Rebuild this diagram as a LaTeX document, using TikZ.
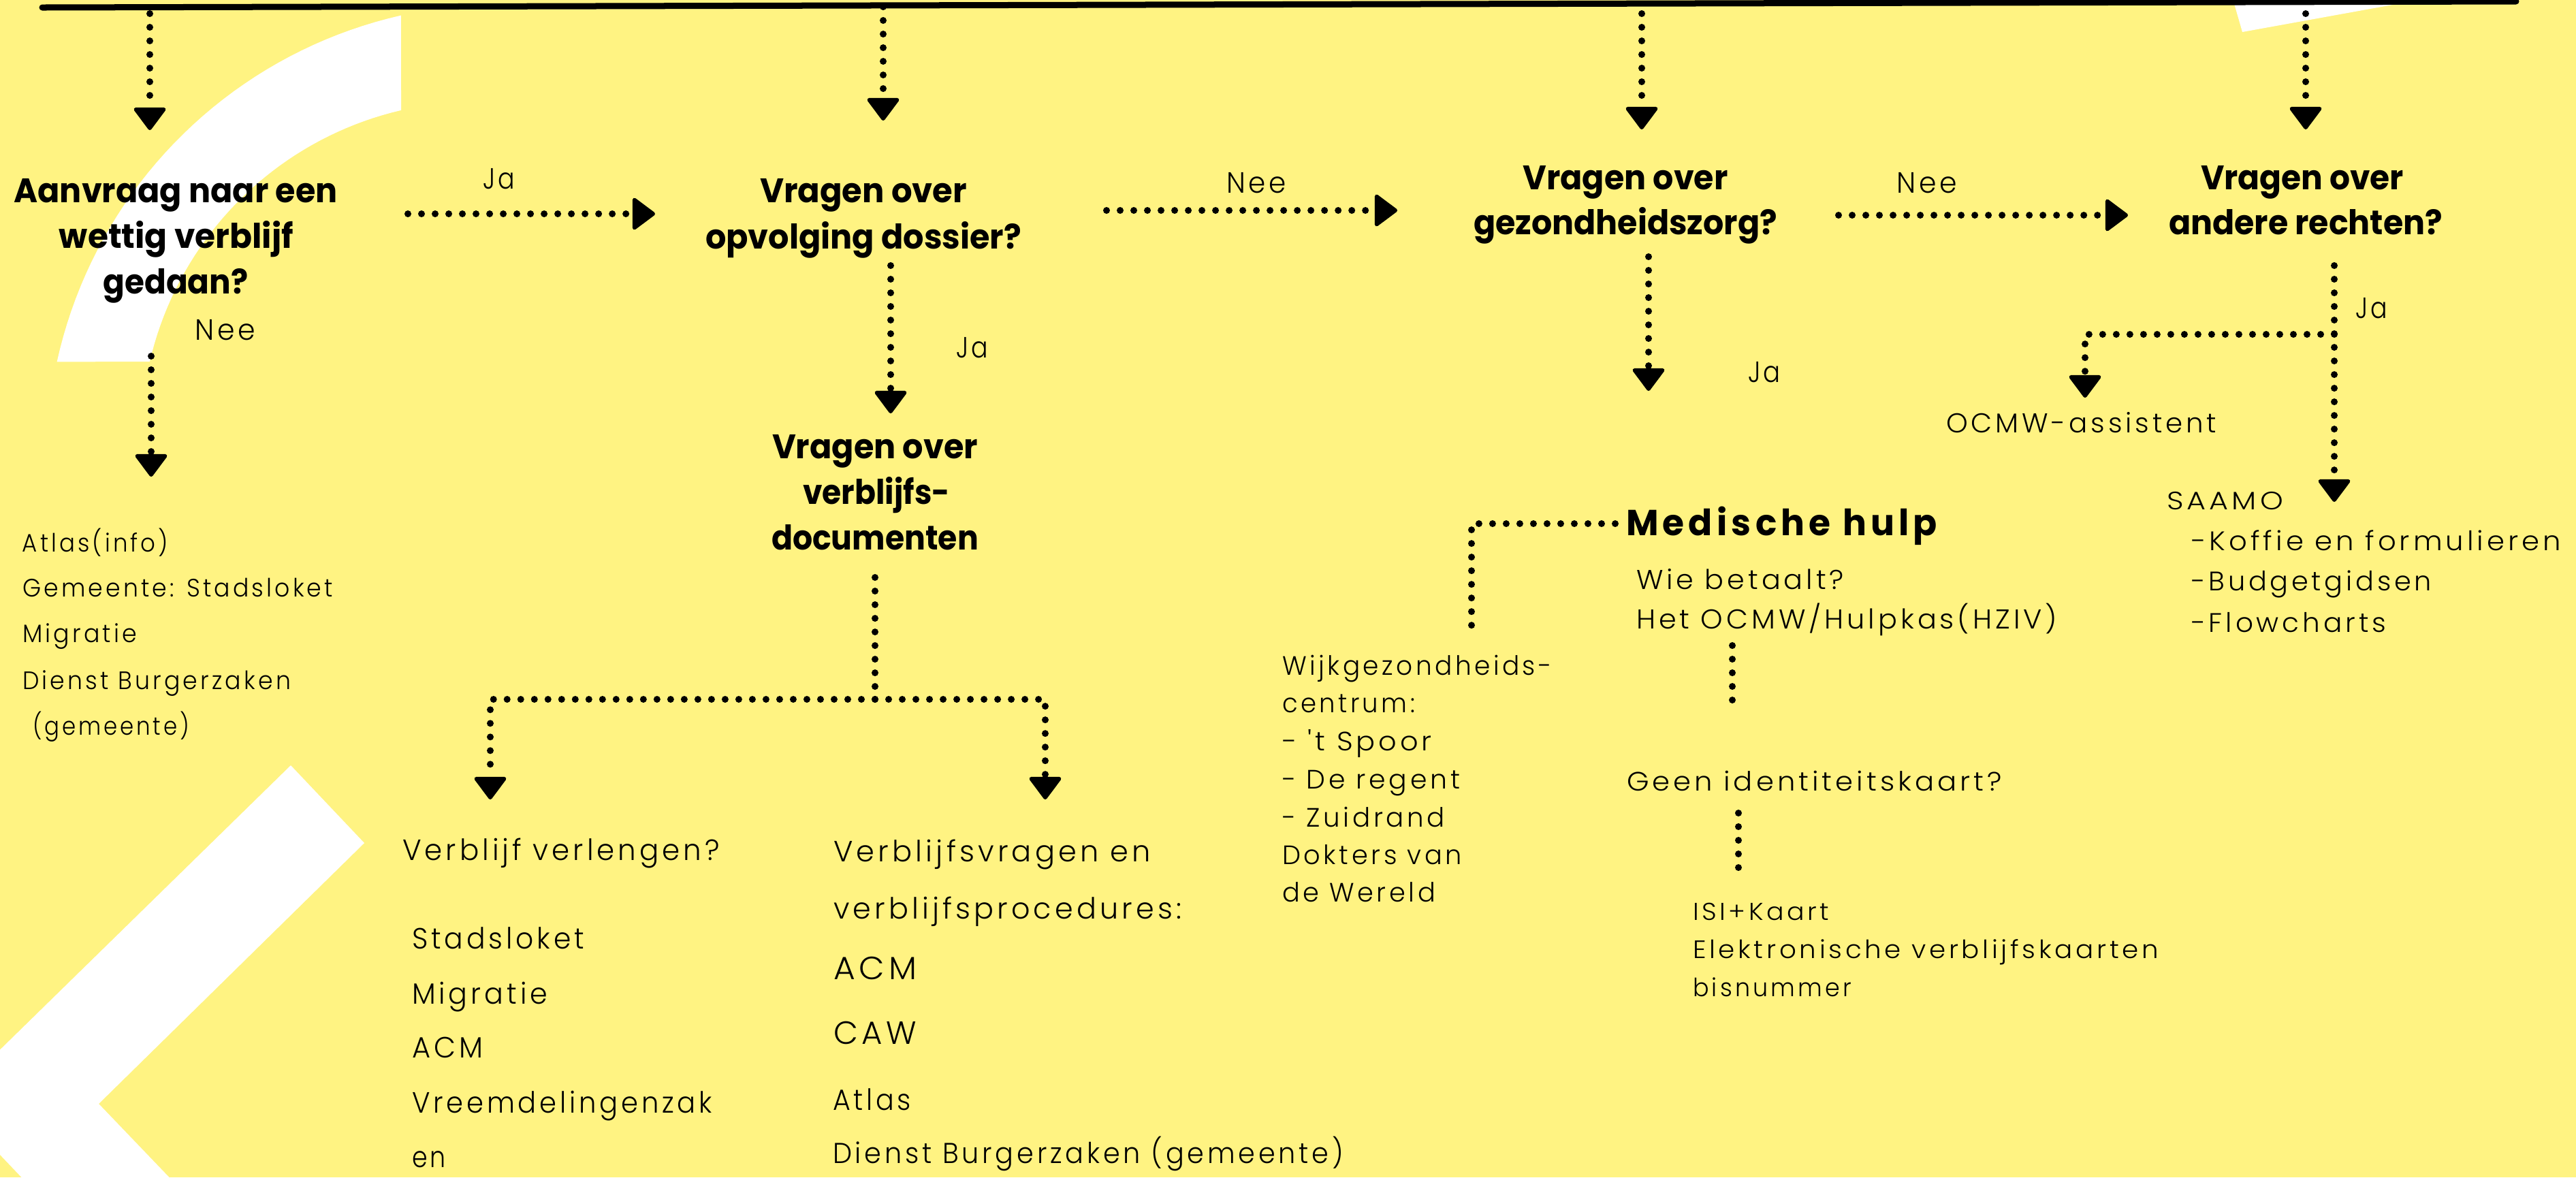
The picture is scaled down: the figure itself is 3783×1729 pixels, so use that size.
\documentclass[tikz,border=0pt]{standalone}
\usepackage{fontspec}
\usepackage{graphicx}
\usetikzlibrary{arrows.meta}
\definecolor{bgy}{HTML}{FFF382}
\newdimen\pxl \pxl=0.01cm
\newfontfamily\headf{Poppins}
\newfontfamily\medf{Poppins}[LetterSpace=12]
\IfFontExistsTF{Poppins Light}{\newfontfamily\bodyf{Poppins Light}[LetterSpace=12]}{\newfontfamily\bodyf{Poppins}[LetterSpace=12]}
\newcommand\fitw[2]{\resizebox{#1\pxl}{\height}{#2}}
\tikzset{
  txt/.style={inner sep=0pt, outer sep=0pt, anchor=base west, text=black},
  bt/.style={txt, font={\bodyf\fontsize{#1}{#1}\selectfont}},
  hd/.style={inner sep=0pt, outer sep=0pt, anchor=base, text=black, font={\headf\bfseries\fontsize{14.2}{14.2}\selectfont}},
  dotln/.style={line width=2.85pt, line cap=round, dash pattern=on 0pt off 5.69pt},
  flw/.style={dotln, -{Triangle[width=14.5pt,length=10pt,line width=1.6pt,round]}},
  whiteshape/.style={fill=white, draw=none},
}
\begin{document}
\begin{tikzpicture}[x=0.01cm, y=-0.01cm]
\useasboundingbox (0,0) rectangle (3783,1729);
\fill[bgy] (0,0) rectangle (3783,1729);
\begin{scope}
\clip (0,0) rectangle (3783,1729);
% decorative white shapes
\fill[whiteshape] plot[domain=192.4:257.2, samples=40] ({737+669*cos(\x)},{675+669*sin(\x)})
  -- plot[domain=256.9:193.1, samples=40] ({701+494*cos(\x)},{643+494*sin(\x)}) -- cycle;
\fill[whiteshape] (427,1124) -- (535,1238) -- (145,1621) -- (260,1741) -- (43,1741) -- (-76,1616) -- cycle;
\fill[whiteshape] (3278,-5) -- (3293,47) -- (3580,-5) -- cycle;
\end{scope}
% top bar
\coordinate (barL) at (62,11);
\coordinate (barR) at (3695,2);
\draw[line width=2.56pt, line cap=round] (barL) -- (barR);

% headings
\node[hd] (h1a) at (258,297) {\fitw{475}{Aanvraag naar een}};
\node[hd] (h1b) at (259,364) {\fitw{344}{wettig verblijf}};
\node[hd] (h1c) at (258,431) {\fitw{213}{gedaan?}};
\node[hd] (h2a) at (1268,297) {\fitw{304}{Vragen over}};
\node[hd] (h2b) at (1268,365) {\fitw{464}{opvolging dossier?}};
\node[hd] (h3a) at (2387,278) {\fitw{301}{Vragen over}};
\node[hd] (h3b) at (2387,344) {\fitw{446}{gezondheidszorg?}};
\node[hd] (h4a) at (3381,278) {\fitw{298}{Vragen over}};
\node[hd] (h4b) at (3386,344) {\fitw{402}{andere rechten?}};
\node[hd] (h5a) at (1285,673) {\fitw{302}{Vragen over}};
\node[hd] (h5b) at (1287,740) {\fitw{216}{verblijfs-}};
\node[hd] (h5c) at (1285,807) {\fitw{304}{documenten}};
\node[txt, font={\medf\bfseries\fontsize{15.1}{15.1}\selectfont}] (mh) at (2388,786) {\fitw{457}{Medische hulp}};

% Ja / Nee labels
\node[bt=12.23] (ja1) at (709,277) {\fitw{47}{Ja}};
\node[bt=12.23] (nee1) at (286,499) {\fitw{89}{Nee}};
\node[bt=12.23] (nee2) at (1801,283) {\fitw{88}{Nee}};
\node[bt=12.23] (nee3) at (2785,283) {\fitw{89}{Nee}};
\node[bt=12.23] (ja2) at (1404,525) {\fitw{47}{Ja}};
\node[bt=12.23] (ja3) at (2567,561) {\fitw{48}{Ja}};
\node[bt=12.23] (ja4) at (3459,467) {\fitw{47}{Ja}};

% left column
\node[bt=10.53] (l1) at (33,810) {\fitw{214}{Atlas(info)}};
\node[bt=10.53] (l2) at (33,876) {\fitw{456}{Gemeente: Stadsloket}};
\node[bt=10.53] (l3) at (33,943) {\fitw{168}{Migratie}};
\node[bt=10.53] (l4) at (33,1012) {\fitw{394}{Dienst Burgerzaken}};
\node[bt=10.53] (l5) at (48,1079) {\fitw{230}{(gemeente)}};

% verblijf verlengen column
\node[bt=12.23] (v1) at (591,1263) {\fitw{466}{Verblijf verlengen?}};
\node[bt=12.23] (v2) at (605,1393) {\fitw{253}{Stadsloket}};
\node[bt=12.23] (v3) at (605,1474) {\fitw{199}{Migratie}};
\node[bt=12.23] (v4) at (605,1553) {\fitw{104}{ACM}};
\node[bt=12.23] (v5) at (605,1634) {\fitw{441}{Vreemdelingenzak}};
\node[bt=12.23] (v6) at (605,1714) {\fitw{50}{en}};

% verblijfsvragen column
\node[bt=12.23] (r1) at (1224,1265) {\fitw{466}{Verblijfsvragen en}};
\node[bt=12.23] (r2) at (1224,1349) {\fitw{511}{verblijfsprocedures:}};
\node[bt=13.4] (r3) at (1224,1438) {\fitw{122}{ACM}};
\node[bt=13.4] (r4) at (1224,1533) {\fitw{122}{CAW}};
\node[bt=12.23] (r5) at (1223,1630) {\fitw{115}{Atlas}};
\node[bt=12.0] (r6) at (1223,1708) {\fitw{750}{Dienst Burgerzaken (gemeente)}};

% wijkgezondheidscentrum column
\node[bt=11.1] (w1) at (1883,991) {\fitw{396}{Wijkgezondheids-}};
\node[bt=11.1] (w2) at (1883,1046) {\fitw{195}{centrum:}};
\node[bt=11.1] (w3) at (1883,1102) {\fitw{220}{- 't Spoor}};
\node[bt=11.1] (w4) at (1883,1158) {\fitw{261}{- De regent}};
\node[bt=11.1] (w5) at (1883,1214) {\fitw{239}{- Zuidrand}};
\node[bt=11.1] (w6) at (1883,1269) {\fitw{264}{Dokters van}};
\node[bt=11.1] (w7) at (1883,1324) {\fitw{225}{de Wereld}};

% medische hulp column
\node[bt=11.38] (wb) at (2403,865) {\fitw{305}{Wie betaalt?}};
\node[bt=11.38] (hoc) at (2403,923) {\fitw{618}{Het OCMW/Hulpkas(HZIV)}};
\node[bt=11.1] (gi) at (2389,1161) {\fitw{551}{Geen identiteitskaart?}};
\node[bt=10.2] (isi) at (2486,1351) {\fitw{200}{ISI+Kaart}};
\node[bt=10.5] (ek) at (2486,1407) {\fitw{684}{Elektronische verblijfskaarten}};
\node[bt=10.5] (bis) at (2486,1463) {\fitw{233}{bisnummer}};

% andere rechten column
\node[bt=11.38] (oc) at (2858,635) {\fitw{397}{OCMW-assistent}};
\node[bt=10.53] (saamo) at (3182,748) {\fitw{171}{SAAMO}};
\node[bt=11.2] (k1) at (3218,808) {\fitw{543}{-Koffie en formulieren}};
\node[bt=11.2] (k2) at (3218,867) {\fitw{353}{-Budgetgidsen}};
\node[bt=11.2] (k3) at (3218,928) {\fitw{286}{-Flowcharts}};

% connector coordinates
\coordinate (a1s) at (220,20);   \coordinate (a1e) at (220,191);
\coordinate (a2s) at (1297,10);  \coordinate (a2e) at (1297,177);
\coordinate (a3s) at (2411,20);  \coordinate (a3e) at (2411,190);
\coordinate (a4s) at (3386,20);  \coordinate (a4e) at (3386,190);
\coordinate (n1s) at (222,523);  \coordinate (n1e) at (222,700);
\coordinate (j1s) at (599,314);  \coordinate (j1e) at (962,314);
\coordinate (n2s) at (1625,309); \coordinate (n2e) at (2052,309);
\coordinate (n3s) at (2700,316); \coordinate (n3e) at (3125,316);
\coordinate (j2s) at (1308,390); \coordinate (j2e) at (1308,607);
\coordinate (j3s) at (2421,377); \coordinate (j3e) at (2421,574);
\coordinate (j4s) at (3428,390); \coordinate (j4e) at (3428,737);
\coordinate (j4b) at (3428,491); \coordinate (j4c) at (3062,491); \coordinate (j4t) at (3062,584);
\coordinate (d5s) at (1285,848); \coordinate (d5j) at (1285,1027);
\coordinate (d5l) at (720,1027); \coordinate (d5lt) at (720,1174);
\coordinate (d5r) at (1535,1027); \coordinate (d5rt) at (1535,1174);
\coordinate (m1s) at (2372,769); \coordinate (m1c) at (2161,769); \coordinate (m1e) at (2161,919);
\coordinate (o1s) at (2544,948); \coordinate (o1e) at (2544,1046);
\coordinate (g1s) at (2553,1194); \coordinate (g1e) at (2553,1293);

\draw[flw] (a1s) -- (a1e);
\draw[flw] (a2s) -- (a2e);
\draw[flw] (a3s) -- (a3e);
\draw[flw] (a4s) -- (a4e);
\draw[flw] (n1s) -- (n1e);
\draw[flw] (j1s) -- (j1e);
\draw[flw] (n2s) -- (n2e);
\draw[flw] (n3s) -- (n3e);
\draw[flw] (j2s) -- (j2e);
\draw[flw] (j3s) -- (j3e);
\draw[flw] (j4s) -- (j4e);
\draw[flw] (j4b) -- (j4c) -- (j4t);
\draw[dotln] (d5s) -- (d5j);
\draw[flw] (d5j) -- (d5l) -- (d5lt);
\draw[flw] (d5j) -- (d5r) -- (d5rt);
\draw[dotln] (m1s) -- (m1c) -- (m1e);
\draw[dotln] (o1s) -- (o1e);
\draw[dotln] (g1s) -- (g1e);
\end{tikzpicture}
\end{document}
